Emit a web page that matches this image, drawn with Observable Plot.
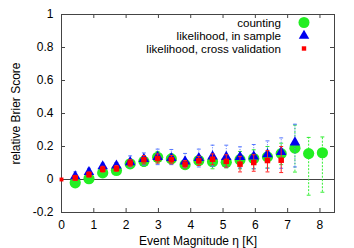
<!DOCTYPE html>
<html><head><meta charset="utf-8">
<script src="https://cdn.jsdelivr.net/npm/d3@7"></script>
<script src="https://cdn.jsdelivr.net/npm/@observablehq/plot@0.6"></script>
<style>
body{margin:0;background:#fff}
#wrap{position:relative;width:354px;height:248px;font-family:"Liberation Sans",Arial,sans-serif}
.lab{position:absolute;right:73px;font-size:11.6px;line-height:13px;height:13px;white-space:nowrap;color:#000}
.sym{position:absolute;left:294px;width:20px;height:13px;overflow:visible}
</style></head><body><div id="wrap"></div><script>
// Data
const xTicks = [0, 1, 2, 3, 4, 5, 6, 7, 8];
const yTicks = [-0.2, 0, 0.2, 0.4, 0.6, 0.8, 1];
const xs = [0.425,0.85,1.275,1.7,2.125,2.55,2.975,3.4,3.825,4.25,4.675,5.1,5.525,5.95,6.375,6.8,7.225,7.65,8.075];
const countVal = [-0.02,0.005,0.04,0.055,0.095,0.11,0.135,0.125,0.09,0.115,0.108,0.105,0.12,0.127,0.137,0.157,0.19,0.157,0.162];
const countLo  = [-0.04,-0.015,0.02,0.035,0.07,0.08,0.1,0.095,0.065,0.085,0.065,0.07,0.065,0.065,0.07,0.09,0.045,-0.095,-0.077];
const countHi  = [0.0,0.025,0.06,0.075,0.12,0.14,0.17,0.155,0.115,0.145,0.15,0.14,0.17,0.18,0.2,0.22,0.33,0.255,0.258];
const inX = xs.slice(0, 17);
const inVal = [0.02,0.045,0.08,0.085,0.105,0.125,0.137,0.13,0.11,0.13,0.14,0.137,0.137,0.14,0.153,0.167,0.225];
const inLo  = [-0.005,0.025,0.06,0.065,0.076,0.087,0.09,0.09,0.073,0.076,0.08,0.075,0.07,0.065,0.068,0.068,0.076];
const inHi  = [0.046,0.068,0.099,0.103,0.143,0.161,0.184,0.182,0.158,0.184,0.208,0.208,0.198,0.212,0.234,0.252,0.335];
const cvX = [0].concat(xs.slice(0, 16));
const cvVal = [0,0.01,0.03,0.062,0.066,0.1,0.12,0.127,0.12,0.093,0.113,0.123,0.11,0.093,0.103,0.115,0.117];
const cvLo  = [0,-0.005,0.015,0.045,0.05,0.08,0.095,0.1,0.095,0.07,0.085,0.09,0.075,0.046,0.05,0.046,0.042];
const cvHi  = [0,0.025,0.045,0.08,0.085,0.12,0.145,0.155,0.145,0.115,0.14,0.155,0.15,0.14,0.15,0.175,0.2];
const seriesNames = ["counting", "likelihood, in sample", "likelihood, cross validation"];

const mk = (X, V, L, H) => X.map((x, i) => ({x, v: V[i], lo: L[i], hi: H[i]}));
const cnt = mk(xs, countVal, countLo, countHi);
const ins = mk(inX, inVal, inLo, inHi);
const cvAll = mk(cvX, cvVal, cvLo, cvHi);
const cv = cvAll.slice(1);
const cv0 = cvAll.slice(0, 1);

const capSym = {draw(ctx, size) { const w = Math.sqrt(size); ctx.moveTo(-w, 0); ctx.lineTo(w, 0); }};

const W = 354, H = 248, mL = 61, mR = 20, mT = 14, mB = 36;
const pw = W - mL - mR, ph = H - mT - mB;

function bars(data, color, dash) {
  return [
    Plot.ruleX(data, {x: "x", y1: "lo", y2: "hi", stroke: color, strokeWidth: 1, strokeDasharray: dash}),
    Plot.dot(data, {x: "x", y: "lo", symbol: capSym, r: 1.1, stroke: color, strokeWidth: 1}),
    Plot.dot(data, {x: "x", y: "hi", symbol: capSym, r: 1.1, stroke: color, strokeWidth: 1})
  ];
}

const chart = Plot.plot({
  width: W, height: H,
  marginLeft: mL, marginRight: mR, marginTop: mT, marginBottom: mB,
  style: {fontSize: "12px", fontFamily: "'Liberation Sans', Arial, sans-serif", color: "#000", background: "#fff"},
  x: {domain: [0, 8.45]},
  y: {domain: [-0.2, 1]},
  marks: [
    Plot.ruleY([0], {stroke: "#444", strokeWidth: 1}),
    Plot.tickX(xTicks, {x: d => d, insetTop: ph - 4, stroke: "#444"}),
    Plot.tickX(xTicks, {x: d => d, insetBottom: ph - 4, stroke: "#444"}),
    Plot.tickY(yTicks, {y: d => d, insetRight: pw - 4, stroke: "#444"}),
    Plot.tickY(yTicks, {y: d => d, insetLeft: pw - 4, stroke: "#444"}),
    Plot.frame({stroke: "#444", strokeWidth: 1}),
    Plot.axisX({ticks: xTicks, tickSize: 0, tickPadding: 8, tickFormat: d => String(d),
      label: "Event Magnitude η [K]", labelAnchor: "center", labelOffset: 32.5, labelArrow: "none"}),
    Plot.axisY({ticks: yTicks, tickSize: 0, tickPadding: 8, tickFormat: d => String(+d.toFixed(1)),
      label: "relative Brier Score", labelAnchor: "center", labelOffset: 50, labelArrow: "none"}),
    ...bars(cnt, "#33ee33", "2,1.5"),
    Plot.dot(cnt, {x: "x", y: "v", r: 5.6, fill: "#22ee22", stroke: "none"}),
    ...bars(ins, "#5577ff", "1,1.5"),
    Plot.dot(ins, {x: "x", y: "v", symbol: "triangle", r: 3.9, fill: "#0000ee", stroke: "none"}),
    ...bars(cv, "#ff2222", null),
    Plot.dot(cv, {x: "x", y: "v", symbol: "square", r: 3.1, fill: "#ff0000", stroke: "none"}),
    Plot.dot(cv0, {x: "x", y: "v", symbol: "square", r: 2.2, fill: "#ff0000", stroke: "none"})
  ]
});
const wrap = document.getElementById("wrap");
wrap.appendChild(chart);

// Legend (HTML overlay, inside the plot frame)
const rowCenters = [22, 35, 48];
const syms = [
  '<circle cx="10" cy="6.5" r="5.5" fill="#22ee22"/>',
  '<path d="' + d3.symbol(d3.symbolTriangle, 3.9*3.9*Math.PI)() + '" transform="translate(10,6.8)" fill="#0000ee"/>',
  '<rect x="7.8" y="4.3" width="4.4" height="4.4" fill="#ff0000"/>'
];
seriesNames.forEach((name, i) => {
  const lab = document.createElement("div");
  lab.className = "lab";
  lab.style.top = (rowCenters[i] - 6.5) + "px";
  lab.textContent = name;
  wrap.appendChild(lab);
  const s = document.createElementNS("http://www.w3.org/2000/svg", "svg");
  s.setAttribute("class", "sym");
  s.style.top = (rowCenters[i] - 6.5) + "px";
  s.innerHTML = syms[i];
  wrap.appendChild(s);
});
</script></body></html>
